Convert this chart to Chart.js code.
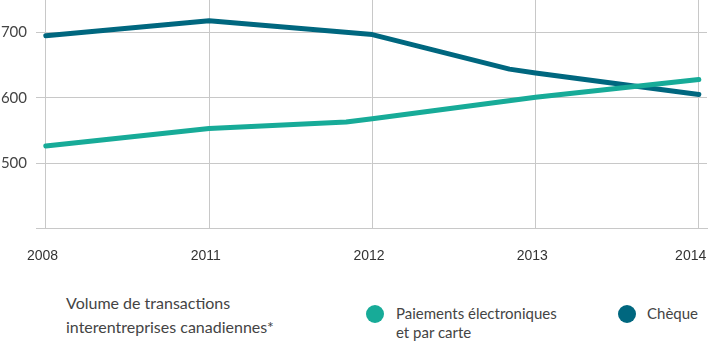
<!DOCTYPE html>
<html>
<head>
<meta charset="utf-8">
<script src="https://cdn.jsdelivr.net/npm/chart.js@4/dist/chart.umd.min.js"></script>
<style>
  html, body { margin: 0; padding: 0; background: #fff; overflow: hidden; }
  #wrap { position: relative; width: 710px; height: 349px; font-family: Lato, sans-serif; color: #444; }
  #box { position: absolute; left: 0; top: 0; width: 710px; height: 285px; }
  .title { position: absolute; left: 66px; top: 291px; font-size: 16px; line-height: 24px; }
  .item { position: absolute; top: 304px; font-size: 15px; line-height: 19px; }
  .dot { position: absolute; width: 18px; height: 18px; border-radius: 50%; top: 305px; }
</style>
</head>
<body>
<div id="wrap">
  <div id="box"><canvas id="chart"></canvas></div>
  <div class="title">Volume de transactions<br>interentreprises canadiennes*</div>
  <div class="dot" id="dot0" style="left:366px"></div>
  <div class="item" id="lab0" style="left:396px"></div>
  <div class="dot" id="dot1" style="left:618px"></div>
  <div class="item" id="lab1" style="left:647px"></div>
</div>
<script>
// x positions are in "label slots": 0 = 2008, 1 = 2011, ... 4 = 2014
const yearLabels = ["2008", "2011", "2012", "2013", "2014"]
const yTicks = [500, 600, 700]

const electroX = [0, 1, 1.84, 2, 3, 4]
const electroY = [526, 553, 563, 568, 601, 628]

const chequeX = [0, 1, 2, 2.84, 3, 4]
const chequeY = [695, 718, 697, 644, 638, 605]

const seriesNames = ["Paiements électroniques<br>et par carte", "Chèque"]
const seriesColors = ["#17ab98", "#00677f"]

const toPoints = (xs, ys) => xs.map((x, i) => ({ x: x, y: ys[i] }))

document.getElementById("dot0").style.background = seriesColors[0]
document.getElementById("dot1").style.background = seriesColors[1]
document.getElementById("lab0").innerHTML = seriesNames[0]
document.getElementById("lab1").innerHTML = seriesNames[1]

const gridColor = "#c8c8c8"

// Chart.js reserves room for end labels; the original runs edge to edge
const noPadding = (scale) => {
  scale.paddingLeft = 0
  scale.paddingRight = 0
  scale.paddingTop = 0
  scale.paddingBottom = 0
}

new Chart(document.getElementById("chart"), {
  type: "line",
  data: {
    datasets: [
      {
        data: toPoints(electroX, electroY),
        borderColor: seriesColors[0],
        borderWidth: 5,
        borderCapStyle: "round",
        borderJoinStyle: "round",
        pointRadius: 0,
        tension: 0,
        xAxisID: "x"
      },
      {
        data: toPoints(chequeX, chequeY),
        borderColor: seriesColors[1],
        borderWidth: 5,
        borderCapStyle: "round",
        borderJoinStyle: "round",
        pointRadius: 0,
        tension: 0,
        xAxisID: "x"
      }
    ]
  },
  options: {
    responsive: true,
    maintainAspectRatio: false,
    animation: false,
    layout: { padding: { top: 0, right: 3, left: 0, bottom: 0 } },
    plugins: { legend: { display: false }, tooltip: { enabled: false } },
    scales: {
      x: {
        type: "linear",
        min: -0.06,
        max: 4.05,
        grid: { color: gridColor, drawTicks: false },
        border: { color: gridColor },
        ticks: { display: false, stepSize: 1, includeBounds: false },
        afterBuildTicks: (scale) => {
          scale.ticks = yearLabels.map((_, i) => ({ value: i }))
        },
        afterFit: (scale) => { noPadding(scale); scale.height = 0 }
      },
      years: {
        type: "linear",
        position: "bottom",
        min: -0.06,
        max: 4.05,
        grid: { display: false, drawTicks: false },
        border: { display: false },
        ticks: {
          padding: 20,
          maxRotation: 0,
          color: "#333",
          font: { family: "'Liberation Sans', Arial, sans-serif", size: 14 },
          callback: (v, i) => yearLabels[i]
        },
        // last label sits a bit left of its gridline, as in the original
        afterBuildTicks: (scale) => {
          scale.ticks = yearLabels.map((_, i) => ({ value: i === yearLabels.length - 1 ? i - 0.05 : i - 0.02 }))
        },
        afterFit: noPadding
      },
      y: {
        min: 400,
        max: 750,
        grid: { color: gridColor, drawTicks: false },
        border: { display: false },
        ticks: {
          padding: 9,
          color: "#444",
          font: { family: "Lato, sans-serif", size: 15 },
          callback: (v) => yTicks.includes(v) ? String(v) : ""
        },
        afterBuildTicks: (scale) => {
          scale.ticks = [400].concat(yTicks).map(v => ({ value: v }))
        },
        afterFit: (scale) => { noPadding(scale); scale.width = 36 }
      }
    }
  }
})
</script>
</body>
</html>
